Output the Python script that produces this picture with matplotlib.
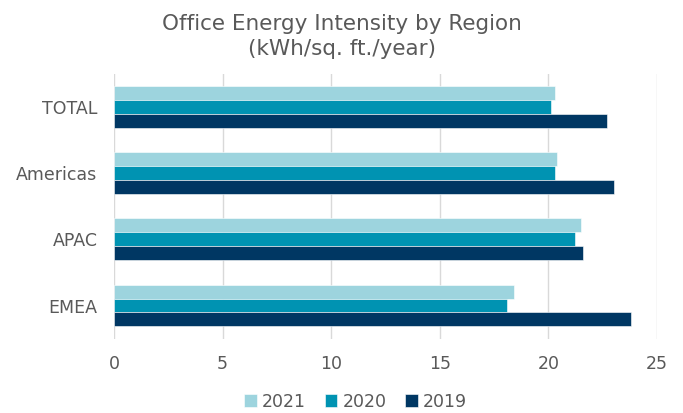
import matplotlib
matplotlib.use("Agg")
import matplotlib.pyplot as plt
import numpy as np

plt.rcParams['font.family'] = ['DejaVu Sans']

regions = ['TOTAL', 'Americas', 'APAC', 'EMEA']
years = ['2021', '2020', '2019']
v2021 = [20.3, 20.4, 21.5, 18.4]
v2020 = [20.1, 20.3, 21.2, 18.1]
v2019 = [22.7, 23.0, 21.6, 23.8]
colors = ['#9DD4DE', '#0093B2', '#003763']

txt = '#595959'
fig = plt.figure(figsize=(6.83, 4.13), dpi=100)
ax = fig.add_axes([0.167, 0.180, 0.795, 0.642])

y = np.arange(len(regions))
h = 0.21
for k, (vals, c, lab) in enumerate(zip([v2021, v2020, v2019], colors, years)):
    ax.barh(y + (k - 1) * h, vals, height=h, color=c, label=lab,
            edgecolor='white', linewidth=0.4, zorder=3)

ax.set_xlim(0, 25)
ax.set_ylim(3.5, -0.5)
ax.set_yticks(y)
ax.set_yticklabels(regions)
ax.set_xticks([0, 5, 10, 15, 20, 25])
ax.xaxis.grid(True, color='#D9D9D9', linewidth=1, zorder=0)
ax.tick_params(length=0, labelsize=12.5, colors=txt, pad=12)
ax.tick_params(axis='x', pad=12)
for s in ax.spines.values():
    s.set_visible(False)

fig.suptitle('Office Energy Intensity by Region\n(kWh/sq. ft./year)',
             x=0.5, y=0.965, fontsize=15.5, color=txt, linespacing=1.3)

ax.legend(loc='lower center', bbox_to_anchor=(0.445, -0.33), ncol=3, frameon=False,
          fontsize=12.5, labelcolor=txt, handlelength=0.7, handleheight=0.7,
          handletextpad=0.3, columnspacing=1.1)

fig.savefig('out.png', dpi=100)
